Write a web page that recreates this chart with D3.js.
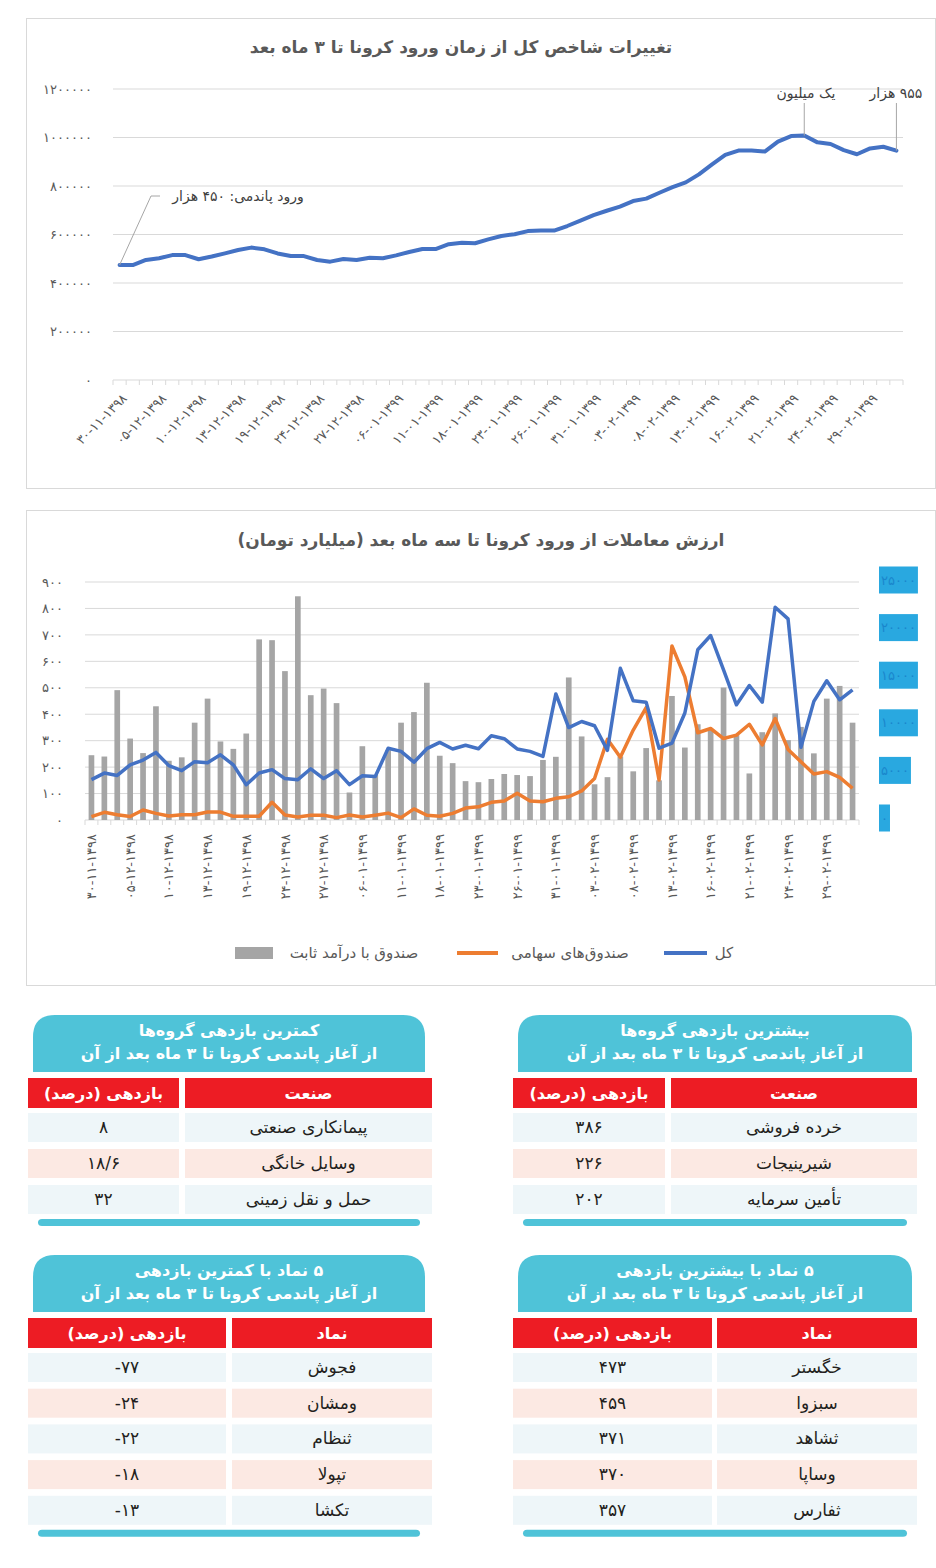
<!DOCTYPE html>
<html lang="fa">
<head>
<meta charset="utf-8">
<script src="https://cdn.jsdelivr.net/npm/d3@7"></script>
<style>
  body { margin: 0; background: #fff; }
  svg { display: block; font-family: "DejaVu Sans", sans-serif; }
</style>
</head>
<body>
<div id="chart"></div>
<script>
// تبدیل ارقام لاتین به فارسی
const toFa = s => String(s).replace(/\d/g, d => '۰۱۲۳۴۵۶۷۸۹'[d]);

// برچسب‌های محور تاریخ (هر سه روز معاملاتی یک برچسب)
const tickLabels = ["30-11-1398","05-12-1398","10-12-1398","13-12-1398","19-12-1398","24-12-1398","27-12-1398",
  "06-01-1399","11-01-1399","18-01-1399","23-01-1399","26-01-1399","31-01-1399","03-02-1399","08-02-1399",
  "13-02-1399","16-02-1399","21-02-1399","24-02-1399","29-02-1399"];

// شاخص کل
const indexValues = [474000,474000,495000,502000,515000,515000,498000,509000,522000,536000,
  546000,539000,522000,511000,511000,495000,488000,499000,495000,504000,
  502000,514000,528000,540000,540000,560000,566000,564000,580000,594000,
  601000,614000,616000,616000,635000,657000,680000,698000,715000,738000,
  748000,772000,795000,815000,848000,889000,928000,946000,946000,942000,
  983000,1006000,1008000,980000,973000,948000,931000,955000,962000,946000];
const indexTicks = [0,200000,400000,600000,800000,1000000,1200000];

// ارزش معاملات (میلیارد تومان)
const fixedIncome = [245,240,491,308,253,430,224,237,368,459,297,269,327,683,680,563,846,472,497,442,
  104,279,170,264,368,408,519,243,215,147,143,155,174,170,166,227,239,539,316,135,
  162,240,184,272,150,469,274,362,340,501,321,176,332,403,302,352,252,459,507,368];
const equityFunds = [13,29,20,13,38,25,15,20,20,30,30,14,14,14,67,19,11,18,18,9,
  19,11,18,26,9,42,18,14,25,45,50,67,72,101,72,69,82,88,110,157,
  305,237,340,425,151,658,541,330,346,308,321,362,284,384,267,220,174,183,161,120];
const totalValue = [4030,4720,4470,5580,6080,6890,5500,4970,5920,5810,6640,5580,3500,4720,5080,4140,4030,5170,4140,4970,
  3500,4440,4360,7330,7000,5860,7280,7940,7250,7640,7280,8640,8330,7250,7000,6470,13030,9500,10140,9690,
  7110,15720,12310,12170,7330,7860,11030,17670,19170,15560,11890,13920,12170,22140,20920,7420,12250,14420,12420,13470];
const leftTicks = [0,100,200,300,400,500,600,700,800,900];
const rightTicks = [0,5000,10000,15000,20000,25000];
const legendNames = ["کل","صندوق‌های سهامی","صندوق با درآمد ثابت"];

// جدول‌ها
const topGroups = ["خرده فروشی","شیرینیجات","تأمین سرمایه"];
const topGroupReturns = ["386","226","202"];
const lowGroups = ["پیمانکاری صنعتی","وسایل خانگی","حمل و نقل زمینی"];
const lowGroupReturns = ["8","18/6","32"];
const topSymbols = ["خگستر","سبزوا","ثشاهد","وساپا","ثفارس"];
const topSymbolReturns = [473,459,371,370,357];
const lowSymbols = ["فجوش","ومشان","ثنظام","تپولا","تکشا"];
const lowSymbolReturns = [-77,-24,-22,-18,-13];

const textColor = '#595959', gridColor = '#d9d9d9';
const blue = '#4472c4', orange = '#ed7d31', gray = '#a5a5a5';

const svg = d3.select('#chart').append('svg')
  .attr('width', 936).attr('height', 1568);
svg.append('rect').attr('width', 936).attr('height', 1568).attr('fill', '#fff');

// ---------- نمودار ۱: شاخص کل ----------
svg.append('rect').attr('x', 26.5).attr('y', 18.5).attr('width', 909).attr('height', 470)
  .attr('fill', 'none').attr('stroke', gridColor);

svg.append('text').attr('x', 461).attr('y', 53).attr('text-anchor', 'middle')
  .attr('direction', 'rtl').attr('font-size', 17).attr('font-weight', 'bold').attr('fill', textColor)
  .text('تغییرات شاخص کل از زمان ورود کرونا تا ۳ ماه بعد');

const x1 = d3.scaleBand().domain(d3.range(indexValues.length)).range([113, 903]);
const cx1 = i => x1(i) + x1.bandwidth() / 2;
const y1 = d3.scaleLinear().domain([0, 1200000]).range([380, 89]);

const g1 = svg.append('g');
g1.selectAll('.grid1').data(indexTicks.slice(1)).enter().append('line')
  .attr('x1', 113).attr('x2', 903).attr('y1', d => y1(d)).attr('y2', d => y1(d))
  .attr('stroke', gridColor);
g1.append('line').attr('x1', 113).attr('x2', 903).attr('y1', 380).attr('y2', 380).attr('stroke', gridColor);
g1.selectAll('.tick1').data(d3.range(indexValues.length + 1)).enter().append('line')
  .attr('x1', d => 113 + d * x1.step()).attr('x2', d => 113 + d * x1.step())
  .attr('y1', 380).attr('y2', 385).attr('stroke', gridColor);

const yAxis1 = g1.append('g').attr('transform', 'translate(100,0)')
  .call(d3.axisLeft(y1).tickValues(indexTicks).tickFormat(toFa).tickSize(0).tickPadding(8));
yAxis1.select('.domain').remove();
yAxis1.selectAll('text').attr('font-size', 13).attr('letter-spacing', 1.2)
  .attr('fill', textColor).attr('font-family', '"DejaVu Sans"');

g1.selectAll('.xl1').data(tickLabels).enter().append('text')
  .attr('transform', (d, i) => `translate(${cx1(i * 3) + 5},396) rotate(-45)`)
  .attr('text-anchor', 'end').attr('dy', '0.35em').attr('letter-spacing', 2.3)
  .attr('font-size', 13).attr('fill', textColor).text(d => toFa(d));

g1.append('path').datum(indexValues)
  .attr('d', d3.line().x((d, i) => cx1(i)).y(d => y1(d)))
  .attr('fill', 'none').attr('stroke', blue).attr('stroke-width', 4)
  .attr('stroke-linejoin', 'round').attr('stroke-linecap', 'round');

// برچسب‌های توضیحی
const lastI = indexValues.length - 1;
const peakI = indexValues.indexOf(d3.max(indexValues));
const leader = '#a6a6a6';
g1.append('polyline')
  .attr('points', `${cx1(0)},${y1(indexValues[0])} 151,196 160,196`)
  .attr('fill', 'none').attr('stroke', leader);
g1.append('text').attr('x', 238).attr('y', 201).attr('text-anchor', 'middle').attr('direction', 'rtl')
  .attr('font-size', 14).attr('fill', '#404040').text('ورود پاندمی: ۴۵۰ هزار');
g1.append('line').attr('x1', cx1(peakI)).attr('x2', cx1(peakI)).attr('y1', 103).attr('y2', y1(indexValues[peakI]))
  .attr('stroke', leader);
g1.append('text').attr('x', 806).attr('y', 98).attr('text-anchor', 'middle').attr('direction', 'rtl')
  .attr('font-size', 14).attr('fill', '#404040').text('یک میلیون');
g1.append('line').attr('x1', cx1(lastI)).attr('x2', cx1(lastI)).attr('y1', 103).attr('y2', y1(indexValues[lastI]))
  .attr('stroke', leader);
g1.append('text').attr('x', 896).attr('y', 98).attr('text-anchor', 'middle').attr('direction', 'rtl')
  .attr('font-size', 14).attr('fill', '#404040').text('۹۵۵ هزار');

// ---------- نمودار ۲: ارزش معاملات ----------
svg.append('rect').attr('x', 26.5).attr('y', 510.5).attr('width', 909).attr('height', 475)
  .attr('fill', 'none').attr('stroke', gridColor);
svg.append('text').attr('x', 481).attr('y', 546).attr('text-anchor', 'middle')
  .attr('direction', 'rtl').attr('font-size', 17).attr('font-weight', 'bold').attr('fill', textColor)
  .text('ارزش معاملات از ورود کرونا تا سه ماه بعد (میلیارد تومان)');

const x2 = d3.scaleBand().domain(d3.range(fixedIncome.length)).range([85, 859]);
const cx2 = i => x2(i) + x2.bandwidth() / 2;
const yL = d3.scaleLinear().domain([0, 900]).range([820, 582]);
const yR = d3.scaleLinear().domain([0, 25000]).range([818, 580]);

const g2 = svg.append('g');
g2.selectAll('.grid2').data(leftTicks.slice(1)).enter().append('line')
  .attr('x1', 85).attr('x2', 859).attr('y1', d => yL(d)).attr('y2', d => yL(d))
  .attr('stroke', gridColor);
g2.append('line').attr('x1', 85).attr('x2', 859).attr('y1', 820).attr('y2', 820).attr('stroke', gridColor);
g2.selectAll('.tick2').data(d3.range(fixedIncome.length + 1)).enter().append('line')
  .attr('x1', d => 85 + d * x2.step()).attr('x2', d => 85 + d * x2.step())
  .attr('y1', 820).attr('y2', 825).attr('stroke', gridColor);

const yAxis2 = g2.append('g').attr('transform', 'translate(70,0)')
  .call(d3.axisLeft(yL).tickValues(leftTicks).tickFormat(toFa).tickSize(0).tickPadding(7));
yAxis2.select('.domain').remove();
yAxis2.selectAll('text').attr('font-size', 13).attr('letter-spacing', 1.5)
  .attr('fill', textColor).attr('font-family', '"DejaVu Sans"');

// محور راست با کادرهای آبی
const rTick = g2.selectAll('.rt').data(rightTicks).enter().append('g')
  .attr('transform', d => `translate(879,${yR(d)})`);
rTick.append('rect').attr('y', -13.5).attr('height', 27).attr('fill', '#29a8e0');
rTick.append('text').attr('x', 2).attr('dy', '0.35em').attr('font-size', 13).attr('letter-spacing', 1.5)
  .attr('fill', '#1a86cc').text(d => toFa(d));
rTick.each(function () {
  const w = d3.select(this).select('text').node().getComputedTextLength();
  d3.select(this).select('rect').attr('width', w + 4);
});

const bw = x2.step() * 0.44;
g2.selectAll('.bar').data(fixedIncome).enter().append('rect')
  .attr('x', (d, i) => cx2(i) - bw / 2).attr('width', bw)
  .attr('y', d => yL(d)).attr('height', d => 820 - yL(d)).attr('fill', gray);

g2.append('path').datum(equityFunds)
  .attr('d', d3.line().x((d, i) => cx2(i)).y(d => yL(d)))
  .attr('fill', 'none').attr('stroke', orange).attr('stroke-width', 3.5).attr('stroke-linejoin', 'round');
g2.append('path').datum(totalValue)
  .attr('d', d3.line().x((d, i) => cx2(i)).y(d => yR(d)))
  .attr('fill', 'none').attr('stroke', blue).attr('stroke-width', 3.5).attr('stroke-linejoin', 'round');

g2.selectAll('.xl2').data(tickLabels).enter().append('text')
  .attr('transform', (d, i) => `translate(${cx2(i * 3)},834) rotate(-90)`)
  .attr('text-anchor', 'end').attr('dy', '0.35em').attr('letter-spacing', 2)
  .attr('font-size', 13).attr('fill', textColor).text(d => toFa(d));

// راهنما
const lg = svg.append('g');
lg.append('line').attr('x1', 664).attr('x2', 707).attr('y1', 953).attr('y2', 953).attr('stroke', blue).attr('stroke-width', 4);
lg.append('line').attr('x1', 457).attr('x2', 498).attr('y1', 953).attr('y2', 953).attr('stroke', orange).attr('stroke-width', 4);
lg.append('rect').attr('x', 235).attr('y', 947).attr('width', 38).attr('height', 12).attr('fill', gray);
[[724, legendNames[0]], [570, legendNames[1]], [354, legendNames[2]]].forEach(([x, t]) => {
  lg.append('text').attr('x', x).attr('y', 958).attr('text-anchor', 'middle').attr('direction', 'rtl')
    .attr('font-size', 15).attr('fill', textColor).text(t);
});

// ---------- جدول‌ها ----------
const cyan = '#4fc3d8', red = '#ed1c24';
const rowFill = ['#eef6f9', '#fce9e3'];

function drawTable(o) {
  const g = svg.append('g');
  const r = 22;
  const { cx0, cx1: cxr, ty0, ty1 } = o;
  g.append('path')
    .attr('d', `M${cx0},${ty1} V${ty0 + r} Q${cx0},${ty0} ${cx0 + r},${ty0} H${cxr - r} Q${cxr},${ty0} ${cxr},${ty0 + r} V${ty1} Z`)
    .attr('fill', cyan);
  const mid = (cx0 + cxr) / 2;
  o.title.forEach((t, k) => {
    g.append('text').attr('x', mid).attr('y', ty0 + 21 + k * 23).attr('text-anchor', 'middle')
      .attr('direction', 'rtl').attr('font-size', 16).attr('font-weight', 'bold').attr('fill', '#fff').text(t);
  });
  const hy = ty1 + 6, hh = 30;
  const cols = [[o.l0, o.l1], [o.r0, o.r1]];
  g.append('rect').attr('x', o.l0).attr('y', hy).attr('width', o.l1 - o.l0).attr('height', hh).attr('fill', red);
  g.append('rect').attr('x', o.r0).attr('y', hy).attr('width', o.r1 - o.r0).attr('height', hh).attr('fill', red);
  g.append('text').attr('x', (o.r0 + o.r1) / 2).attr('y', hy + 21).attr('text-anchor', 'middle').attr('direction', 'rtl')
    .attr('font-size', 16).attr('font-weight', 'bold').attr('fill', '#fff').text(o.head[0]);
  g.append('text').attr('x', (o.l0 + o.l1) / 2).attr('y', hy + 21).attr('text-anchor', 'middle').attr('direction', 'rtl')
    .attr('font-size', 16).attr('font-weight', 'bold').attr('fill', '#fff').text(o.head[1]);

  const rowY = i => hy + hh + 5 + i * o.step;
  const rows = g.selectAll('.row').data(o.names).enter().append('g');
  cols.forEach(([a, b]) => {
    rows.append('rect').attr('x', a).attr('y', (d, i) => rowY(i)).attr('width', b - a).attr('height', 29)
      .attr('fill', (d, i) => rowFill[i % 2]);
  });
  rows.append('text').attr('x', (o.r0 + o.r1) / 2).attr('y', (d, i) => rowY(i) + 20)
    .attr('text-anchor', 'middle').attr('direction', 'rtl').attr('font-size', 17).attr('fill', '#231f20')
    .text(d => d);
  rows.append('text').attr('x', (o.l0 + o.l1) / 2).attr('y', (d, i) => rowY(i) + 20)
    .attr('text-anchor', 'middle').attr('font-size', 17).attr('letter-spacing', 1).attr('fill', '#231f20')
    .text((d, i) => toFa(o.values[i]));
  const by = rowY(o.names.length - 1) + 29 + 5;
  g.append('rect').attr('x', cx0 + 5).attr('y', by).attr('width', cxr - cx0 - 10).attr('height', 7)
    .attr('rx', 4).attr('fill', cyan);
}

const sub = 'از آغاز پاندمی کرونا تا ۳ ماه بعد از آن';
drawTable({ cx0: 518, cx1: 912, ty0: 1015, ty1: 1072, l0: 513, l1: 665, r0: 671, r1: 917, step: 36,
  title: ['بیشترین بازدهی گروه‌ها', sub], head: ['صنعت', 'بازدهی (درصد)'], names: topGroups, values: topGroupReturns });
drawTable({ cx0: 33, cx1: 425, ty0: 1015, ty1: 1072, l0: 28, l1: 179, r0: 185, r1: 432, step: 36,
  title: ['کمترین بازدهی گروه‌ها', sub], head: ['صنعت', 'بازدهی (درصد)'], names: lowGroups, values: lowGroupReturns });
drawTable({ cx0: 518, cx1: 912, ty0: 1255, ty1: 1312, l0: 513, l1: 712, r0: 717, r1: 917, step: 35.7,
  title: ['۵ نماد با بیشترین بازدهی', sub], head: ['نماد', 'بازدهی (درصد)'], names: topSymbols, values: topSymbolReturns });
drawTable({ cx0: 33, cx1: 425, ty0: 1255, ty1: 1312, l0: 28, l1: 226, r0: 232, r1: 432, step: 35.7,
  title: ['۵ نماد با کمترین بازدهی', sub], head: ['نماد', 'بازدهی (درصد)'], names: lowSymbols, values: lowSymbolReturns });
</script>
</body>
</html>
